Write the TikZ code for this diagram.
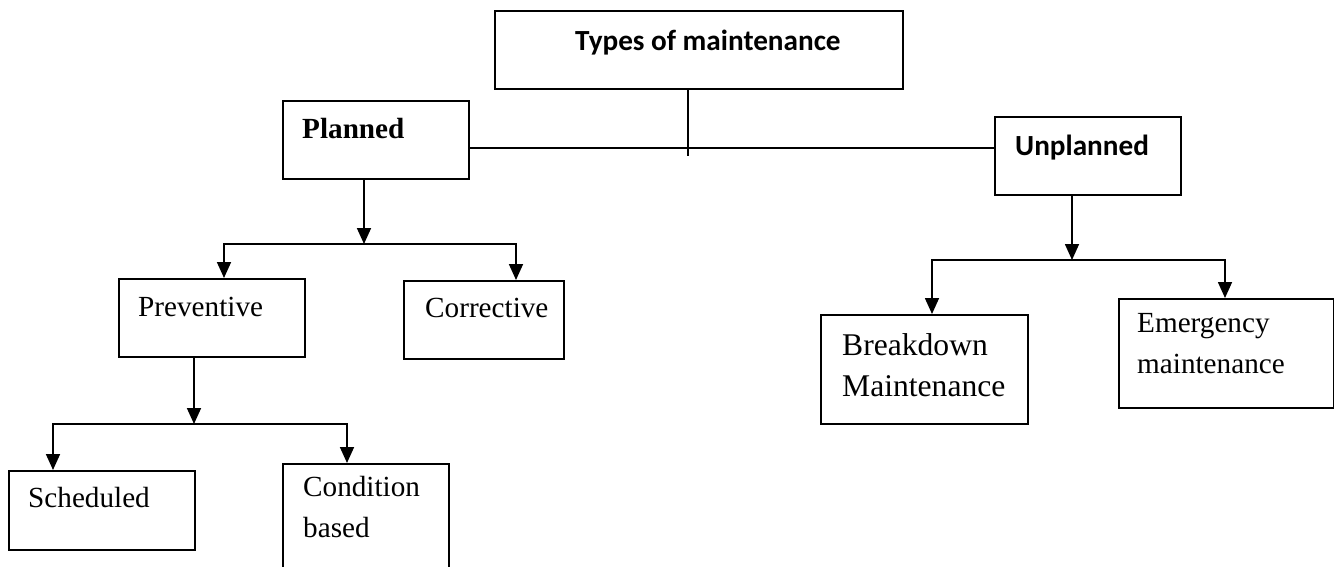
\documentclass[tikz,border=0pt]{standalone}
\usepackage{fontspec}
\setmainfont{Liberation Serif}
\newfontfamily\calfont{Carlito}
\usetikzlibrary{arrows.meta}
\begin{document}
\begin{tikzpicture}[x=1pt,y=-1pt,
  boxst/.style={draw=black,line width=1.7pt,anchor=north west,inner sep=0pt},
  txt/.style={anchor=base west,inner sep=0pt,font=\fontsize{29.2}{40.5}\selectfont,align=left},
  btxt/.style={txt,font=\fontsize{29.2}{40.5}\selectfont\bfseries},
  stxt/.style={txt,font=\fontsize{29.2}{40.5}\selectfont\calfont\bfseries},
  conn/.style={line width=1.7pt},
  arr/.style={conn,-{Triangle[length=16pt,width=14pt]}}]
\useasboundingbox (0,0) rectangle (1334,566);
% boxes
\node[boxst,minimum width=408pt,minimum height=78pt] (top) at (494,10) {};
\node[boxst,minimum width=186pt,minimum height=78pt] (plan) at (282,100) {};
\node[boxst,minimum width=186pt,minimum height=78pt] (unpl) at (994,116) {};
\node[boxst,minimum width=186pt,minimum height=78pt] (prev) at (118,278) {};
\node[boxst,minimum width=160pt,minimum height=78pt] (corr) at (403,280) {};
\node[boxst,minimum width=186pt,minimum height=79pt] (sched) at (8,470) {};
\node[boxst,minimum width=166pt,minimum height=130pt] (cond) at (282,463) {};
\node[boxst,minimum width=207pt,minimum height=109pt] (brk) at (820,314) {};
\node[boxst,minimum width=215pt,minimum height=109pt] (emg) at (1118,298) {};
% texts (multi-line nodes: base = baseline of last line)
\node[stxt] (ttop) at (575,50) {Types of maintenance};
\node[btxt] (tplan) at (302,138) {Planned};
\node[stxt] (tunpl) at (1015,155) {Unplanned};
\node[txt] (tprev) at (138,316) {Preventive};
\node[txt] (tcorr) at (425,317) {Corrective};
\node[txt] (tsched) at (28,507) {Scheduled};
\node[txt] (tcond) at (303,537) {Condition\\based};
\node[txt,font=\fontsize{31.6}{41}\selectfont] (tbrk) at (842,396) {Breakdown\\Maintenance};
\node[txt] (temg) at (1137,373) {Emergency\\maintenance};
% junction coordinates
\coordinate (tj) at (688,156);
\coordinate (hl) at (688,148);
\coordinate (pj) at (364,244);
\coordinate (vj) at (194,424);
\coordinate (uj) at (1072,260);
\coordinate (a1) at (224,0);
\coordinate (a2) at (516,0);
\coordinate (a3) at (53,0);
\coordinate (a4) at (347,0);
\coordinate (a5) at (932,0);
\coordinate (a6) at (1225,0);
% connectors
\draw[conn] (top.south -| tj) -- (tj);
\draw[conn] (plan.east |- hl) -- (unpl.west |- hl);
\draw[arr] (plan.south -| pj) -- (pj);
\draw[arr] (pj) -| (prev.north -| a1);
\draw[arr] (pj) -| (corr.north -| a2);
\draw[arr] (prev.south -| vj) -- (vj);
\draw[arr] (vj) -| (sched.north -| a3);
\draw[arr] (vj) -| (cond.north -| a4);
\draw[arr] (unpl.south -| uj) -- (uj);
\draw[arr] (uj) -| (brk.north -| a5);
\draw[arr] (uj) -| (emg.north -| a6);
\end{tikzpicture}
\end{document}
